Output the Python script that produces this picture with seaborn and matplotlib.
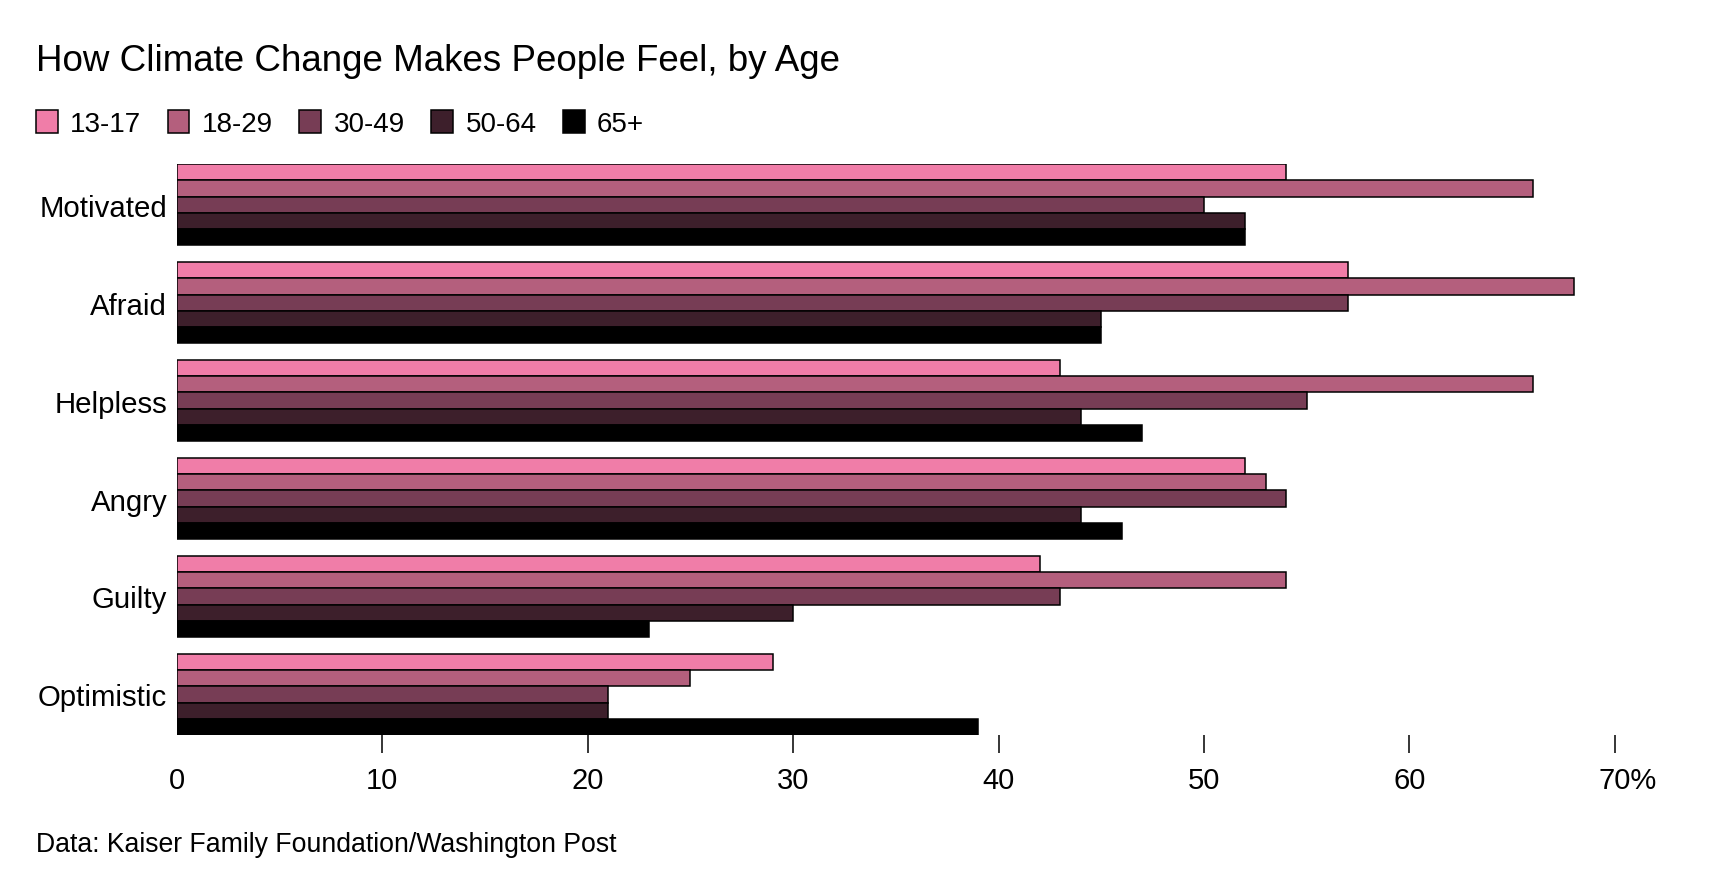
import numpy as np
import pandas as pd
import matplotlib
matplotlib.use("Agg")
import matplotlib.pyplot as plt
import matplotlib.transforms as mtransforms
import seaborn as sns

# Data (percent of each age group)
feelings = ['Motivated', 'Afraid', 'Helpless', 'Angry', 'Guilty', 'Optimistic']
age_groups = ['13-17', '18-29', '30-49', '50-64', '65+']
age_13_17 = [54, 57, 43, 52, 42, 29]
age_18_29 = [66, 68, 66, 53, 54, 25]
age_30_49 = [50, 57, 55, 54, 43, 21]
age_50_64 = [52, 45, 44, 44, 30, 21]
age_65_up = [52, 45, 47, 46, 23, 39]

colors = ['#f07da8', '#b45f7d', '#773d55', '#3d1f2b', '#000000']

series = [age_13_17, age_18_29, age_30_49, age_50_64, age_65_up]
rows = []
for grp, vals in zip(age_groups, series):
    for f, v in zip(feelings, vals):
        rows.append({'Feeling': f, 'Age': grp, 'Share': v})
df = pd.DataFrame(rows)

sns.set_style('white')
plt.rcParams['font.family'] = ['Liberation Sans', 'DejaVu Sans']
plt.rcParams['text.color'] = 'black'
plt.rcParams['xtick.color'] = 'black'
plt.rcParams['ytick.color'] = 'black'
plt.rcParams['axes.labelcolor'] = 'black'

fig = plt.figure(figsize=(17.16, 8.78), dpi=100)
ax = fig.add_axes([0.1031, 0.1617, 0.9411 - 0.1031, 0.812 - 0.1617])

sns.barplot(data=df, y='Feeling', x='Share', hue='Age',
            order=feelings, hue_order=age_groups, palette=colors,
            orient='h', width=0.83, edgecolor='black', linewidth=1.1,
            saturation=1, ax=ax, legend=False)

ax.set_xlim(0, 70)
ax.set_ylim(len(feelings) - 1 + 0.415, -0.415)
sns.despine(ax=ax, left=True, bottom=True)
ax.set_xlabel('')
ax.set_ylabel('')

ticks = list(range(0, 80, 10))
ax.set_xticks(ticks)
ax.set_xticklabels([str(t) for t in ticks[:-1]] + ['70%'])
ax.tick_params(axis='x', direction='out', length=12.6, width=1.1,
               color='black', labelcolor='black', labelsize=21, pad=10, bottom=True)
ax.tick_params(axis='y', length=0, labelsize=21.2, labelcolor='black', pad=7)
ax.xaxis.get_major_ticks()[0].tick1line.set_visible(False)

# keep "70" centred on its tick, with the % hanging to the right
last = ax.get_xticklabels()[-1]
last.set_horizontalalignment('left')
last.set_transform(last.get_transform() +
                   mtransforms.ScaledTranslation(-11.7 / 72, 0, fig.dpi_scale_trans))

# legend of coloured squares
handles = [plt.Rectangle((0, 0), 1, 1, facecolor=c, edgecolor='black', linewidth=1.1)
           for c in colors]
fig.legend(handles, age_groups, loc='center left', bbox_to_anchor=(0.021, 0.858),
           ncol=5, frameon=False, fontsize=20, handlelength=0.78, handleheight=0.9,
           handletextpad=0.45, columnspacing=0.95, borderaxespad=0, borderpad=0)

fig.text(0.021, 0.930, 'How Climate Change Makes People Feel, by Age',
         fontsize=26.5, va='center', ha='left')
fig.text(0.021, 0.0376, 'Data: Kaiser Family Foundation/Washington Post',
         fontsize=19.2, va='center', ha='left')

fig.savefig('out.png', dpi=100)
plt.close(fig)
